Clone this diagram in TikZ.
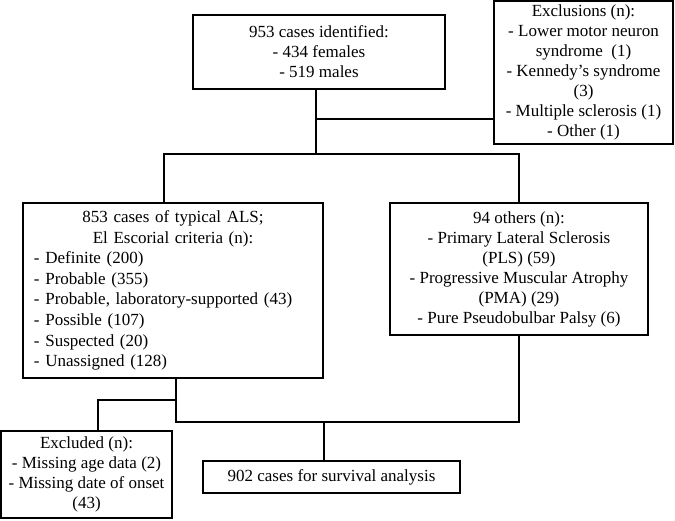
\documentclass[tikz,border=0pt]{standalone}
\usepackage{fontspec}
\setmainfont{Liberation Serif}
\begin{document}
\begin{tikzpicture}[x=1pt,y=1pt,
    box/.style={draw,line width=1.3pt,inner sep=0pt,align=center,
      font=\fontsize{17}{20}\selectfont},
    link/.style={line width=2.4pt}]
  \useasboundingbox (0,0) rectangle (675,-520);
  % boxes
  \node[box,minimum width=252,minimum height=74] (ident) at (319,-52)
    {953 cases identified:\\- 434 females\\- 519 males};
  \node[box,minimum width=179,minimum height=143] (excl) at (583.5,-72.5)
    {Exclusions (n):\\- Lower motor neuron\\syndrome\ \ (1)\\- Kennedy's syndrome\\(3)\\- Multiple sclerosis (1)\\- Other (1)};
  \node[box,align=left,text width=278,inner xsep=11,minimum height=175,
      font=\fontsize{17}{20.6}\selectfont] (als) at (173,-290.5)
    {\centering 853 cases of typical ALS;\\ El Escorial criteria (n):\par
     \raggedright - Definite (200)\\- Probable (355)\\- Probable, laboratory-supported (43)\\- Possible (107)\\- Suspected (20)\\- Unassigned (128)};
  \node[box,minimum width=258,minimum height=132] (others) at (519,-269)
    {94 others (n):\\- Primary Lateral Sclerosis\\(PLS) (59)\\- Progressive Muscular Atrophy\\(PMA) (29)\\- Pure Pseudobulbar Palsy (6)};
  \node[box,minimum width=171,minimum height=87] (dropped) at (86.5,-474.5)
    {Excluded (n):\\- Missing age data (2)\\- Missing date of onset\\(43)};
  \node[box,minimum width=257,minimum height=32] (final) at (331.5,-477)
    {902 cases for survival analysis};
  % connectors
  \coordinate (fork) at (316,-154);
  \coordinate (side) at (316,-119);
  \coordinate (alsin) at (164,-154);
  \coordinate (alsout) at (176,-400);
  \coordinate (merge) at (324,-422);
  \draw[link] (ident.south -| fork) -- (fork);
  \draw[link] (side) -- (side -| excl.west);
  \draw[link] (als.north -| alsin) |- (others.north |- fork) -- (others.north);
  \draw[link] (als.south -| alsout) |- (others.south |- merge) -- (others.south);
  \draw[link] (alsout) -| ([xshift=11.5]dropped.north);
  \draw[link] (merge) -- (final.north -| merge);
\end{tikzpicture}
\end{document}
